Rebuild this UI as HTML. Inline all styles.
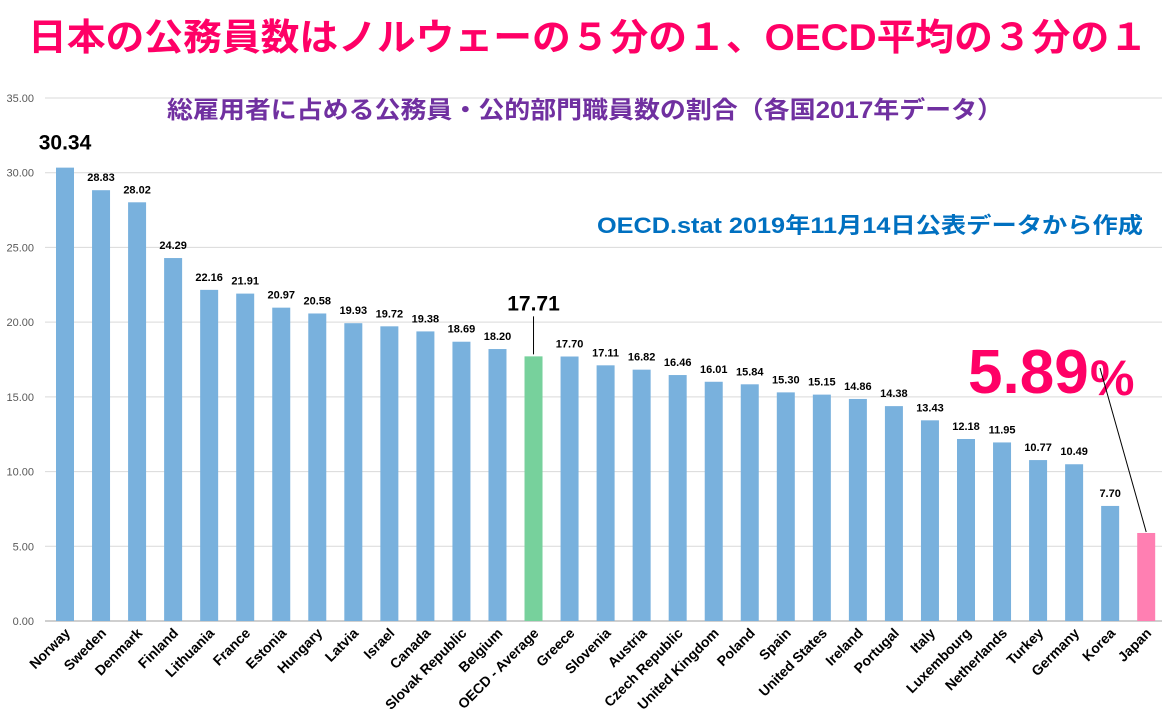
<!DOCTYPE html>
<html><head><meta charset="utf-8">
<style>
body{margin:0;background:#fff;}
svg{display:block;font-family:"Liberation Sans","Noto Sans CJK JP",sans-serif;}
</style></head>
<body>
<svg id="chart" width="1174" height="728" viewBox="0 0 1174 728">
<text x="588" y="50" text-anchor="middle" font-size="37" font-weight="bold" fill="#ff0066" textLength="1120" lengthAdjust="spacingAndGlyphs">日本の公務員数はノルウェーの５分の１、OECD平均の３分の１</text>
<g id="grid"></g>
<g id="bars"></g>
<text x="585" y="118" text-anchor="middle" font-size="24" font-weight="bold" fill="#7030a0" textLength="836" lengthAdjust="spacingAndGlyphs">総雇用者に占める公務員・公的部門職員数の割合（各国2017年データ）</text>
<text x="1143" y="233" text-anchor="end" font-size="22" font-weight="bold" fill="#0070c0" textLength="546" lengthAdjust="spacingAndGlyphs">OECD.stat 2019年11月14日公表データから作成</text>
<g id="ann"></g>
</svg>
<script>
const categories=["Norway","Sweden","Denmark","Finland","Lithuania","France","Estonia","Hungary","Latvia","Israel","Canada","Slovak Republic","Belgium","OECD - Average","Greece","Slovenia","Austria","Czech Republic","United Kingdom","Poland","Spain","United States","Ireland","Portugal","Italy","Luxembourg","Netherlands","Turkey","Germany","Korea","Japan"];
const values=[30.34,28.83,28.02,24.29,22.16,21.91,20.97,20.58,19.93,19.72,19.38,18.69,18.20,17.71,17.70,17.11,16.82,16.46,16.01,15.84,15.30,15.15,14.86,14.38,13.43,12.18,11.95,10.77,10.49,7.70,5.89];
const yTicks=[0,5,10,15,20,25,30,35];
const NS="http://www.w3.org/2000/svg";
const y0=621,pxPer=(621-98)/35;
function yScale(v){return y0-v*pxPer;}
function xScale(i){return 65+i*36.04;}
function mk(tag,attrs,parent){const e=document.createElementNS(NS,tag);for(const k in attrs)e.setAttribute(k,attrs[k]);parent.appendChild(e);return e;}
const grid=document.getElementById('grid');
yTicks.forEach(t=>{
  const l=mk('line',{x1:45,x2:1162,y1:yScale(t),y2:yScale(t),stroke:t===0?'#bfbfbf':'#d9d9d9','stroke-width':t===0?1.5:1},grid);
  
  
  const tx=mk('text',{x:34,y:yScale(t)+4,'text-anchor':'end','font-size':11,fill:'#595959'},grid);
  tx.textContent=t.toFixed(2);
  
  
});
const bars=document.getElementById('bars');
categories.forEach((c,i)=>{
  const v=values[i],cx=xScale(i);
  const col=c==="Japan"?'#ff7fb2':(c==="OECD - Average"?'#77d19c':'#79b1dd');
  const r=mk('rect',{x:cx-9,y:yScale(v),width:18,height:y0-yScale(v),fill:col},bars);
  
  
  if(c!=="Norway"&&c!=="OECD - Average"&&c!=="Japan"){
    const t=mk('text',{x:cx,y:yScale(v)-9,'text-anchor':'middle','font-size':11,'font-weight':'bold',fill:'#000'},bars);
    t.textContent=v.toFixed(2);
    
    
  }
  const lx=cx+6,ly=634;
  const t2=mk('text',{x:lx,y:ly,'text-anchor':'end','font-size':14,'font-weight':'bold',fill:'#000',transform:`rotate(-45 ${lx} ${ly})`},bars);
  t2.textContent=c;
  
  
});
const ann=document.getElementById('ann');
const iN=0,iO=categories.indexOf("OECD - Average"),iJ=categories.indexOf("Japan");
let a=mk('text',{x:xScale(iN),y:yScale(values[iN])-18,'text-anchor':'middle','font-size':21,'font-weight':'bold',fill:'#000'},ann);
a.textContent=values[iN].toFixed(2);


a=mk('text',{x:xScale(iO),y:yScale(values[iO])-46,'text-anchor':'middle','font-size':21,'font-weight':'bold',fill:'#000'},ann);
a.textContent=values[iO].toFixed(2);


a=mk('line',{x1:xScale(iO),x2:xScale(iO),y1:yScale(values[iO])-40,y2:yScale(values[iO])-2,stroke:'#000','stroke-width':1},ann);


a=mk('text',{x:968,y:393,'font-size':62,'font-weight':'bold',fill:'#ff0066'},ann);
a.textContent=values[iJ].toFixed(2);


a=mk('text',{x:1090,y:395,'font-size':50,'font-weight':'bold',fill:'#ff0066'},ann);
a.textContent="%";


a=mk('line',{x1:1100,y1:368,x2:xScale(iJ),y2:yScale(values[iJ])-1,stroke:'#000','stroke-width':1},ann);


</script>
</body></html>
